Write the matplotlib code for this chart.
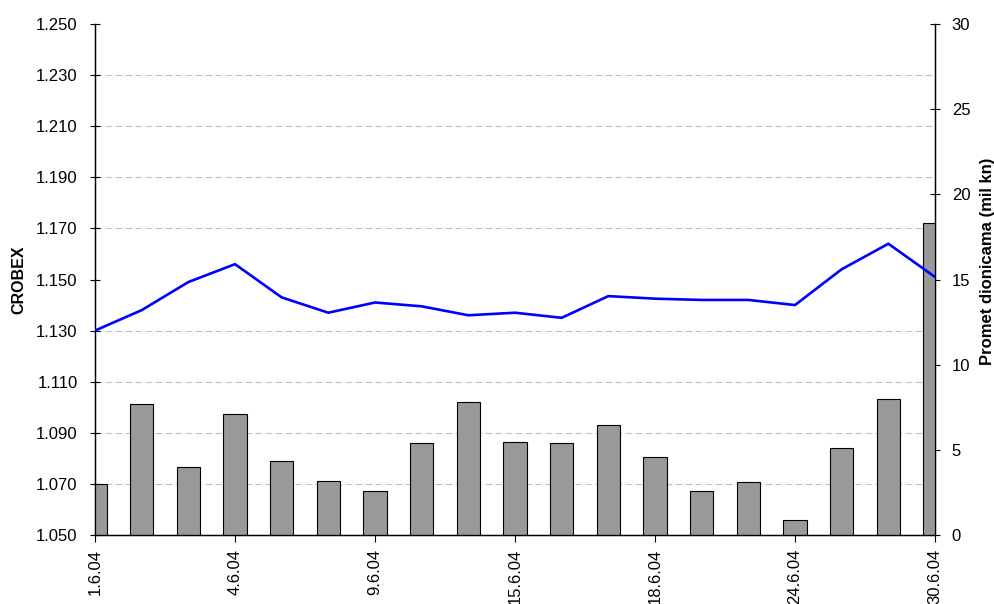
import matplotlib
matplotlib.use("Agg")
import matplotlib.pyplot as plt
from matplotlib.ticker import FuncFormatter
import numpy as np

plt.rcParams['font.family'] = ['Liberation Sans', 'DejaVu Sans']

dates = ["1.6.04", "2.6.04", "3.6.04", "4.6.04", "7.6.04", "8.6.04", "9.6.04",
         "11.6.04", "14.6.04", "15.6.04", "16.6.04", "17.6.04", "18.6.04",
         "21.6.04", "23.6.04", "24.6.04", "28.6.04", "29.6.04", "30.6.04"]
crobex = [1130, 1138, 1149, 1156, 1143, 1137, 1141, 1139.5, 1136, 1137, 1135,
          1143.5, 1142.5, 1142, 1142, 1140, 1154, 1164, 1151]
promet = [3.0, 7.67, 3.97, 7.09, 4.33, 3.15, 2.56, 5.38, 7.79, 5.44, 5.38,
          6.46, 4.56, 2.56, 3.09, 0.86, 5.09, 8.0, 18.3]
labelled = ["1.6.04", "4.6.04", "9.6.04", "15.6.04", "18.6.04", "24.6.04", "30.6.04"]

fig = plt.figure(figsize=(9.95, 6.04), dpi=100)
ax = fig.add_axes([95/995, 1-535/604, (935-95)/995, (535-24)/604])
ax2 = ax.twinx()
ax.set_zorder(2)
ax.patch.set_visible(False)
ax2.set_zorder(1)

x = np.arange(len(dates))

# bars on right axis
ax2.bar(x, promet, width=0.5, color='#999999', edgecolor='black', linewidth=0.8, zorder=3)
ax2.set_ylim(0, 30)
ax2.set_yticks(np.arange(0, 31, 5))
ax2.set_yticks(np.arange(3, 31, 3), minor=True)
ax2.grid(True, which='minor', axis='y', color='#c0c0c0', linestyle=(0, (6, 3)), linewidth=0.8, zorder=0)
ax2.set_axisbelow(True)
ax2.tick_params(axis='y', which='minor', length=0)
ax2.tick_params(axis='y', which='major', direction='inout', length=7, width=0.8, pad=8.5, labelsize=12)
ax2.set_ylabel("Promet dionicama (mil kn)", fontsize=12, fontweight='bold')
ax2.yaxis.set_label_coords(1.0536, 0.536)

# line on left axis
ax.plot(x, crobex, color='#0000ff', linewidth=1.9, zorder=5)
ax.set_ylim(1050, 1250)
ax.set_yticks(np.arange(1050, 1251, 20))
ax.yaxis.set_major_formatter(FuncFormatter(lambda v, p: f"{int(round(v)):,}".replace(",", ".")))
ax.tick_params(axis='y', direction='inout', length=7, width=0.8, pad=9, labelsize=12)
ax.set_ylabel("CROBEX", fontsize=11.5, fontweight='bold', labelpad=7)

ax.set_xlim(0, len(dates) - 1)
tick_pos = [dates.index(d) for d in labelled]
ax.set_xticks(tick_pos)
ax.set_xticklabels(labelled, rotation=90, fontsize=12)
ax.tick_params(axis='x', direction='out', length=5, width=0.8, pad=5)
ax2.tick_params(axis='x', length=0)

for a in (ax, ax2):
    a.spines['top'].set_visible(False)
    for s in ('left', 'right', 'bottom'):
        a.spines[s].set_linewidth(0.9)
        a.spines[s].set_color('black')

fig.savefig("out.png", dpi=100)
